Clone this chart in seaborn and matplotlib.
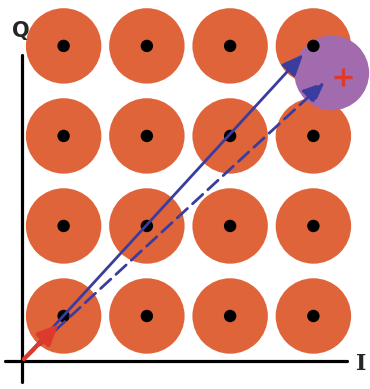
import pandas as pd
import numpy as np
import matplotlib
matplotlib.use("Agg")
import matplotlib.pyplot as plt
import seaborn as sns

# 16-QAM constellation points (I, Q)
levels = [0.5, 1.5, 2.5, 3.5]
i_vals = [i for q in levels for i in levels]
q_vals = [q for q in levels for i in levels]

# received symbol (noisy) near the top-right point
rx_i = [3.85]
rx_q = [3.16]
rx_cloud_i = [3.72]
rx_cloud_q = [3.20]

# vector end points
tx_vec = [3.40, 3.43]
rx_vec = [3.66, 3.12]
unit_vec = [0.46, 0.43]

orange = "#E0643A"
purple = "#A16BAE"
blue = "#3A3C9E"
red = "#DC3A2C"

df = pd.DataFrame({"I": i_vals, "Q": q_vals})

sns.set_style("white")
fig = plt.figure(figsize=(3.70, 3.89), dpi=100)
ax = fig.add_axes([0, 0, 1, 1])

# noise clouds
sns.scatterplot(data=df, x="I", y="Q", s=2950, color=orange, edgecolor="none",
                ax=ax, legend=False, zorder=1)
sns.scatterplot(x=rx_cloud_i, y=rx_cloud_q, s=2900, color=purple, edgecolor="none",
                ax=ax, legend=False, zorder=2)
# ideal points
sns.scatterplot(data=df, x="I", y="Q", s=80, color="black", edgecolor="none",
                ax=ax, legend=False, zorder=3)
# received point
sns.scatterplot(x=rx_i, y=rx_q, s=170, marker="+", color=red, linewidth=2.4,
                ax=ax, legend=False, zorder=4)

# axes
ax.plot([0, 0], [-0.23, 3.4], color="black", lw=2.3, zorder=5)
ax.plot([-0.2, 3.9], [0, 0], color="black", lw=2.3, zorder=5)
ax.text(-0.02, 3.78, "Q", fontsize=15, fontweight="bold", family="DejaVu Sans",
        ha="center", va="top")
ax.text(4.08, -0.03, "I", fontsize=16, fontweight="bold", family="DejaVu Serif",
        ha="center", va="center")

# vectors
ax.annotate("", xy=tx_vec, xytext=(0, 0), zorder=6,
            arrowprops=dict(arrowstyle="-|>,head_length=1.3,head_width=0.55",
                            color=blue, lw=2.0))
ax.annotate("", xy=rx_vec, xytext=(0, 0), zorder=6,
            arrowprops=dict(arrowstyle="-|>,head_length=1.3,head_width=0.55",
                            color=blue, lw=2.0, linestyle=(0, (5, 2.5))))
ax.annotate("", xy=unit_vec, xytext=(0, 0), zorder=7,
            arrowprops=dict(arrowstyle="-|>,head_length=1.2,head_width=0.55",
                            color=red, lw=3.0))

ax.set_xlim(-0.264, 4.18)
ax.set_ylim(-0.311, 4.01)
ax.axis("off")
fig.savefig("out.png", dpi=100)
